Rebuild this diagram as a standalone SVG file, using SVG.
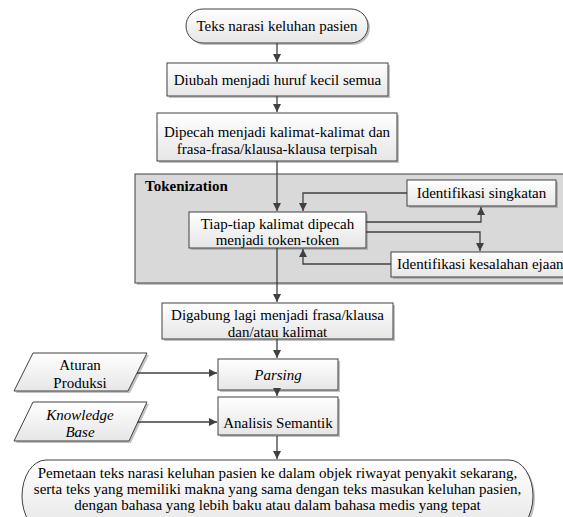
<svg xmlns="http://www.w3.org/2000/svg" width="563" height="517" viewBox="0 0 563 517">
<style>
text{font-family:"Liberation Serif","Times New Roman",serif;font-size:15px;fill:#000;text-anchor:middle}
.it{font-style:italic}
.b{font-weight:bold;text-anchor:start}
.box{fill:url(#g);stroke:#404040;stroke-width:1}
.sh{fill:#9a9a9a;opacity:0.6}
.con{fill:none;stroke:#404040;stroke-width:1.3}
</style>
<defs>
<linearGradient id="g" x1="0" y1="0" x2="0" y2="1">
<stop offset="0" stop-color="#ffffff"/>
<stop offset="1" stop-color="#e6e6e6"/>
</linearGradient>
<marker id="a" markerWidth="10" markerHeight="10" refX="8" refY="4" orient="auto" markerUnits="userSpaceOnUse">
<path d="M0,0 L8,4 L0,8 z" fill="#404040"/>
</marker>
</defs>
<rect width="563" height="517" fill="#fff"/>
<g id="tokenization">
<rect x="137" y="176" width="440" height="109" fill="#8c8c8c" opacity="0.5"/>
<rect x="135" y="174" width="440" height="109" fill="#d9d9d9" stroke="#404040" stroke-width="1"/>
<text class="b" x="145" y="191">Tokenization</text>
</g>

<g id="n1">
<rect class="sh" x="188" y="11" width="182" height="34" rx="17"/>
<rect class="box" x="186" y="9" width="182" height="34" rx="17"/>
<text x="277" y="31">Teks narasi keluhan pasien</text>
</g>
<g id="n2">
<rect class="sh" x="169" y="65" width="221" height="33"/>
<rect class="box" x="167" y="63" width="221" height="33"/>
<text x="277.5" y="85">Diubah menjadi huruf kecil semua</text>
</g>
<g id="n3">
<rect class="sh" x="159" y="115" width="240" height="48"/>
<rect class="box" x="157" y="113" width="240" height="48"/>
<text x="277" y="137">Dipecah menjadi kalimat-kalimat dan</text>
<text x="277" y="154">frasa-frasa/klausa-klausa terpisah</text>
</g>
<g id="n4">
<rect class="sh" x="191" y="214" width="177" height="36"/>
<rect class="box" x="189" y="212" width="177" height="36"/>
<text x="277.5" y="229">Tiap-tiap kalimat dipecah</text>
<text x="277.5" y="245">menjadi token-token</text>
</g>
<g id="n5">
<rect class="sh" x="409" y="182" width="149" height="26"/>
<rect class="box" x="407" y="180" width="149" height="26"/>
<text x="481.5" y="198">Identifikasi singkatan</text>
</g>
<g id="n6">
<rect class="sh" x="393" y="254" width="190" height="25"/>
<rect class="box" x="391" y="252" width="190" height="25"/>
<text x="397" y="269" style="text-anchor:start">Identifikasi kesalahan ejaan</text>
</g>
<g id="n7">
<rect class="sh" x="164" y="305" width="231" height="36"/>
<rect class="box" x="162" y="303" width="231" height="36"/>
<text x="277.5" y="320">Digabung lagi menjadi frasa/klausa</text>
<text x="277.5" y="337">dan/atau kalimat</text>
</g>
<g id="n8">
<rect class="sh" x="220" y="361" width="120" height="31"/>
<rect class="box" x="218" y="359" width="120" height="31"/>
<text class="it" x="278" y="380">Parsing</text>
</g>
<g id="n9">
<rect class="sh" x="220" y="399" width="120" height="38"/>
<rect class="box" x="218" y="397" width="120" height="38"/>
<text x="278" y="428">Analisis Semantik</text>
</g>
<g id="n10">
<polygon class="sh" points="35,355 149,355 130,393 16,393"/>
<polygon class="box" points="33,353 147,353 128,391 14,391"/>
<text x="80" y="370">Aturan</text>
<text x="80" y="388">Produksi</text>
</g>
<g id="n11">
<polygon class="sh" points="35,404 149,404 131,443 16,443"/>
<polygon class="box" points="33,402 147,402 129,441 14,441"/>
<text class="it" x="80" y="420">Knowledge</text>
<text class="it" x="80" y="437">Base</text>
</g>
<g id="n12">
<rect class="sh" x="24" y="462" width="511" height="72" rx="24" ry="36"/>
<rect class="box" x="22" y="460" width="511" height="72" rx="24" ry="36"/>
<text x="277.5" y="478">Pemetaan teks narasi keluhan pasien ke dalam objek riwayat penyakit sekarang,</text>
<text x="277.5" y="494">serta teks yang memiliki makna yang sama dengan teks masukan keluhan pasien,</text>
<text x="277.5" y="510">dengan bahasa yang lebih baku atau dalam bahasa medis yang tepat</text>
</g>
<g id="connectors" class="con">
<path d="M277,43 V62" marker-end="url(#a)"/>
<path d="M277,96 V112" marker-end="url(#a)"/>
<path d="M277,161 V211" marker-end="url(#a)"/>
<path d="M407,193 H303 V211" marker-end="url(#a)"/>
<path d="M366,222 H481 V207" marker-end="url(#a)"/>
<path d="M366,232 H480 V251" marker-end="url(#a)"/>
<path d="M391,264 H303 V249" marker-end="url(#a)"/>
<path d="M277,248 V302" marker-end="url(#a)"/>
<path d="M277,339 V358" marker-end="url(#a)"/>
<path d="M277,390 V396" marker-end="url(#a)"/>
<path d="M277,436 V459" marker-end="url(#a)"/>
<path d="M137,373 H217" marker-end="url(#a)"/>
<path d="M138,422 H217" marker-end="url(#a)"/>
</g>
</svg>
